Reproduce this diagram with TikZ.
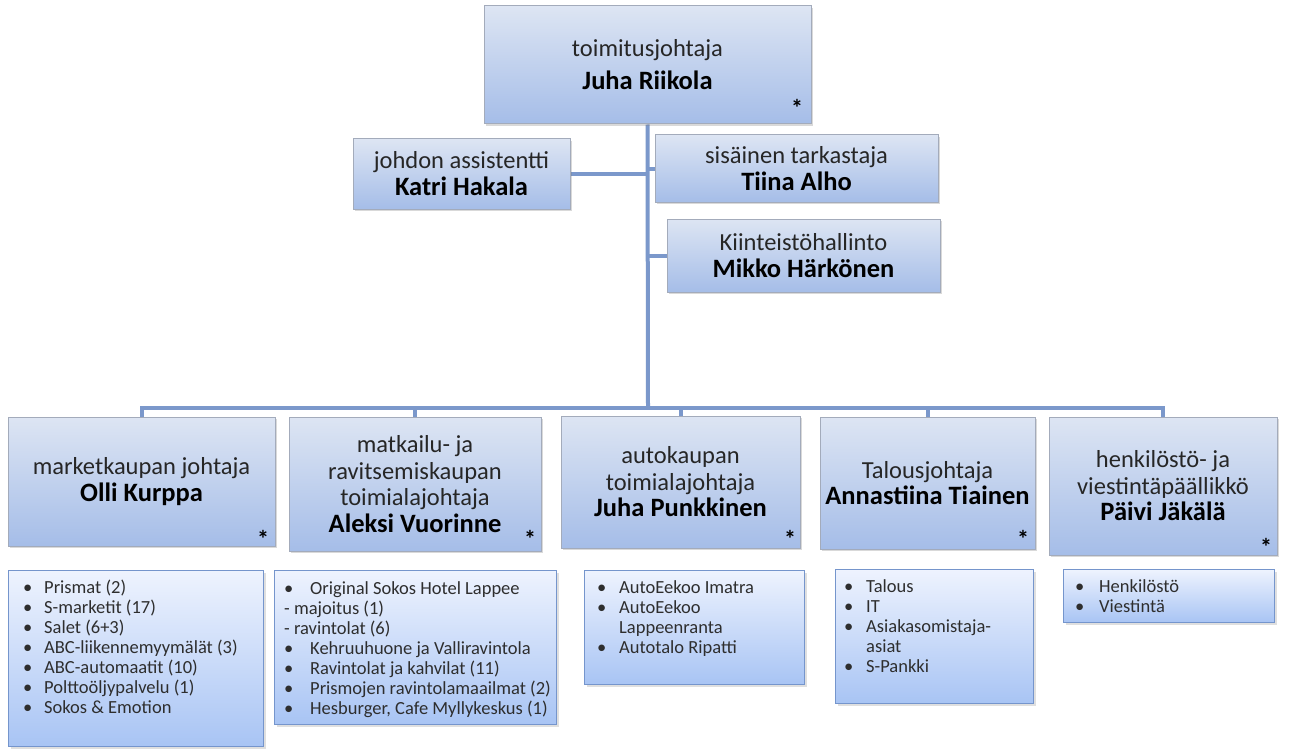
\documentclass[tikz,border=0pt]{standalone}
\usepackage{fontspec}
\setmainfont{Carlito}
\usetikzlibrary{shadows,backgrounds}

\definecolor{linkblue}{HTML}{7B98CB}
\definecolor{boxedge}{HTML}{A3ABBB}
\definecolor{boxtop}{HTML}{DDE5F3}
\definecolor{boxbot}{HTML}{A5BDE8}
\definecolor{listedge}{HTML}{7595CC}
\definecolor{listtop}{HTML}{EEF3FE}
\definecolor{listbot}{HTML}{A8C4F4}

\newlength\bulw
\newcommand\itm[1]{\makebox[\bulw][l]{\textbullet}#1}
\newcommand\cont[1]{\hspace*{\bulw}#1}
\newcommand\nm[1]{{\fontsize{26.5}{26.5}\selectfont\bfseries\color{black}#1}}

\tikzset{
  rolebox/.style={draw=boxedge, line width=1pt, top color=boxtop, bottom color=boxbot,
    drop shadow={opacity=.3, shadow xshift=2pt, shadow yshift=-2pt},
    align=center, inner sep=0pt, text=black!85},
  listbox/.style={draw=listedge, line width=1pt, top color=listtop, bottom color=listbot,
    drop shadow={opacity=.25, shadow xshift=2pt, shadow yshift=-2pt},
    anchor=north west, inner sep=0pt},
  listtext/.style={anchor=north west, align=left, inner sep=0pt, text=black!82,
    font=\fontsize{18.5}{20}\selectfont},
  astnode/.style={inner sep=0pt, font=\fontsize{24}{24}\selectfont\bfseries},
  link/.style={draw=linkblue, line width=4pt},
  big/.style={font=\fontsize{24.5}{33}\selectfont},
  mid/.style={font=\fontsize{24.5}{27}\selectfont},
  role/.style={font=\fontsize{24.5}{26.5}\selectfont}
}

\begin{document}
\begin{tikzpicture}[x=1pt,y=-1pt]
\useasboundingbox (0,0) rectangle (1290,749);

% top management
\node[rolebox,big,minimum width=327,minimum height=118] (ceo) at (647.5,65)
  {toimitusjohtaja\\\nm{Juha Riikola}};
\node[rolebox,mid,minimum width=217,minimum height=70] (katri) at (461.5,174)
  {johdon assistentti\\\nm{Katri Hakala}};
\node[rolebox,mid,minimum width=283,minimum height=67] (tiina) at (796.5,168.5)
  {sisäinen tarkastaja\\\nm{Tiina Alho}};
\node[rolebox,mid,minimum width=273,minimum height=73] (mikko) at (803.5,255.5)
  {Kiinteistöhallinto\\\nm{Mikko Härkönen}};

% directors
\node[rolebox,role,minimum width=267,minimum height=129] (olli) at (141.5,481.5)
  {marketkaupan johtaja\\\nm{Olli Kurppa}};
\node[rolebox,role,minimum width=252,minimum height=134] (aleksi) at (415,484)
  {matkailu- ja\\ravitsemiskaupan\\toimialajohtaja\\\nm{Aleksi Vuorinne}};
\node[rolebox,role,minimum width=239,minimum height=132] (punk) at (680.5,482)
  {autokaupan\\toimialajohtaja\\\nm{Juha Punkkinen}};
\node[rolebox,role,minimum width=215,minimum height=132] (annas) at (927.5,483)
  {Talousjohtaja\\\nm{Annastiina Tiainen}};
\node[rolebox,role,minimum width=228,minimum height=138] (paivi) at (1163,486)
  {henkilöstö- ja\\viestintäpäällikkö\\\nm{Päivi Jäkälä}};

% asterisks
\node[astnode] (s0) at (797,108) {*};
\node[astnode] (s1) at (263,539) {*};
\node[astnode] (s2) at (530,539) {*};
\node[astnode] (s3) at (790,539) {*};
\node[astnode] (s4) at (1023,539) {*};
\node[astnode] (s5) at (1266,547) {*};

% unit lists
\node[listbox,minimum width=255,minimum height=176] (l1) at (8,570) {};
\node[listbox,minimum width=282,minimum height=154] (l2) at (274,570) {};
\node[listbox,minimum width=220,minimum height=114] (l3) at (584,570) {};
\node[listbox,minimum width=198,minimum height=134] (l4) at (835,569) {};
\node[listbox,minimum width=211,minimum height=53] (l5) at (1063,569) {};

\setlength\bulw{21pt}
\node[listtext] (t1) at (23,580) {\itm{Prismat (2)}\\\itm{S-marketit (17)}\\
  \itm{Salet (6+3)}\\\itm{ABC-liikennemyymälät (3)}\\\itm{ABC-automaatit (10)}\\
  \itm{Polttoöljypalvelu (1)}\\\itm{Sokos \& Emotion}};
\setlength\bulw{26pt}
\node[listtext] (t2) at (284,581) {\itm{Original Sokos Hotel Lappee}\\
  - majoitus (1)\\- ravintolat (6)\\\itm{Kehruuhuone ja Valliravintola}\\
  \itm{Ravintolat ja kahvilat (11)}\\\itm{Prismojen ravintolamaailmat (2)}\\
  \itm{Hesburger, Cafe Myllykeskus (1)}};
\setlength\bulw{22pt}
\node[listtext] (t3) at (597,580) {\itm{AutoEekoo Imatra}\\\itm{AutoEekoo}\\
  \cont{Lappeenranta}\\\itm{Autotalo Ripatti}};
\node[listtext] (t4) at (844,579) {\itm{Talous}\\\itm{IT}\\\itm{Asiakasomistaja-}\\
  \cont{asiat}\\\itm{S-Pankki}};
\setlength\bulw{24pt}
\node[listtext] (t5) at (1075,579) {\itm{Henkilöstö}\\\itm{Viestintä}};

% connectors
\begin{scope}[on background layer]
\coordinate (bus) at (648,408);
\draw[link] (ceo.south) -- (bus);
\draw[link] (katri.east) -- (katri.east -| bus);
\draw[link] (tiina.west) -- (tiina.west -| bus);
\draw[link] (mikko.west) -- (mikko.west -| bus);
\draw[link] (olli.north) |- (bus) -| (paivi.north);
\draw[link] (aleksi.north) -- (aleksi.north |- bus);
\draw[link] (punk.north) -- (punk.north |- bus);
\draw[link] (annas.north) -- (annas.north |- bus);
\end{scope}
\end{tikzpicture}
\end{document}
